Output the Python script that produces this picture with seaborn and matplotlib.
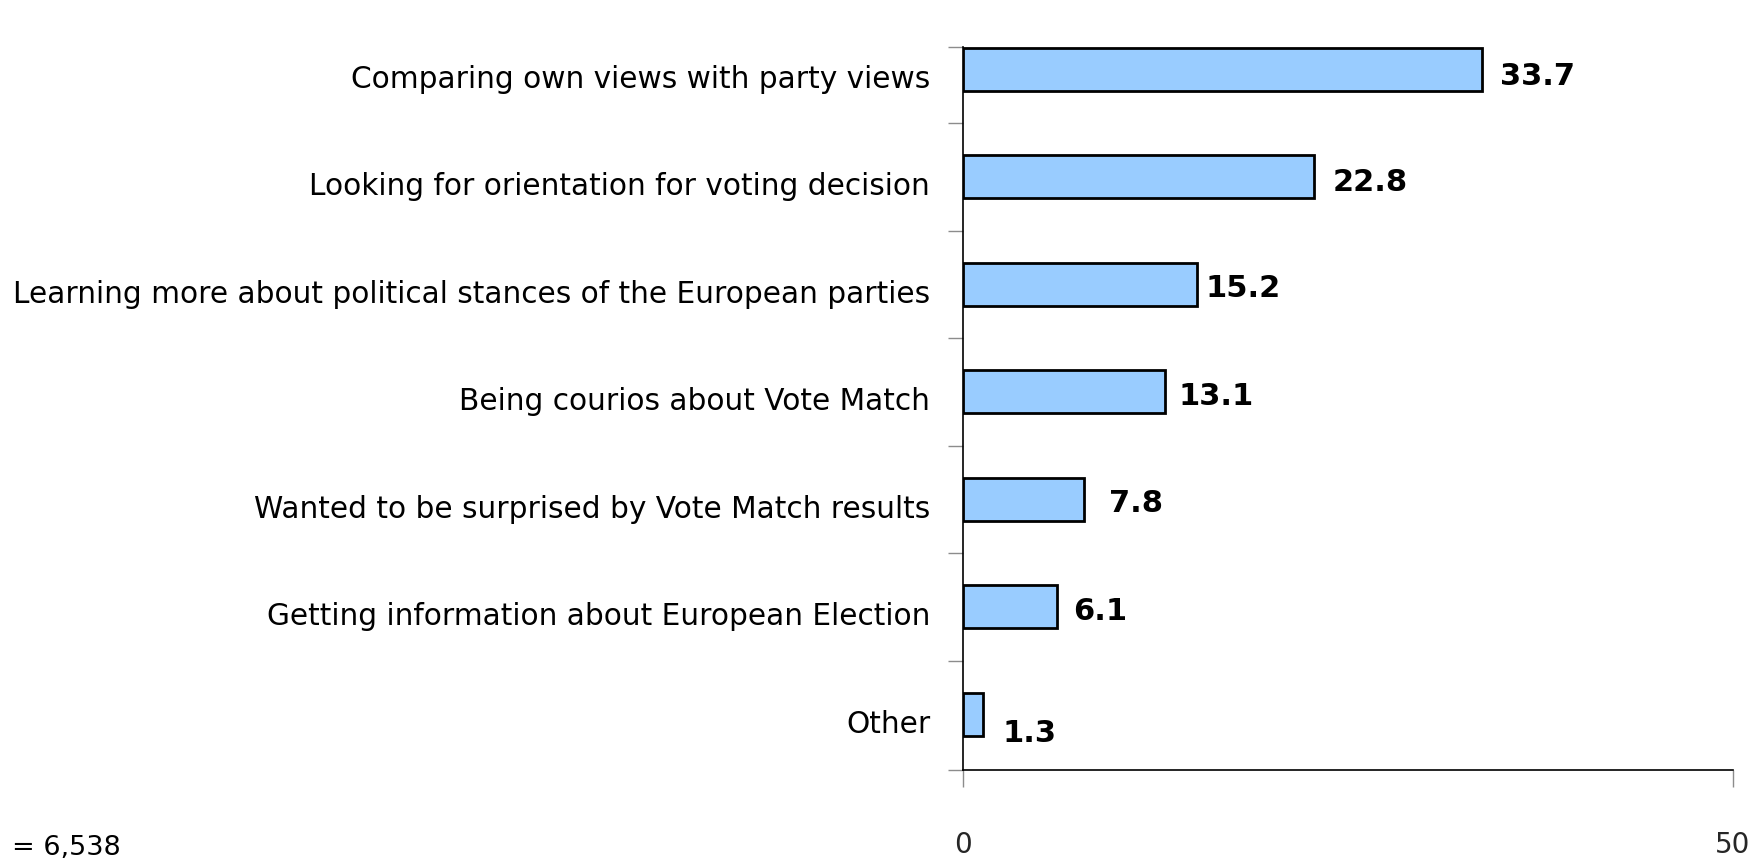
import matplotlib
matplotlib.use("Agg")
import matplotlib.pyplot as plt
import matplotlib.transforms as mtransforms
import seaborn as sns
import pandas as pd

# Reasons for using Vote Match (share of respondents, %)
categories = [
    "Comparing own views with party views",
    "Looking for orientation for voting decision",
    "Learning more about political stances of the European parties",
    "Being courios about Vote Match",
    "Wanted to be surprised by Vote Match results",
    "Getting information about European Election",
    "Other",
]
values = [33.7, 22.8, 15.2, 13.1, 7.8, 6.1, 1.3]
value_labels = ["33.7", "22.8", "15.2", "13.1", "7.8", "6.1", "1.3"]
x_ticks = [0, 50]
x_tick_labels = ["0", "50"]
sample_note = "= 6,538"

# label nudges in points (dx right of bar end, dy downward)
label_dx = [13, 13.5, 5.5, 9.5, 18.5, 11.5, 13.5]
label_dy = [5.5, 4, 3, 3, 3, 3, 13.5]

sns.set_theme(style="white")
plt.rcParams["font.family"] = ["DejaVu Sans"]

fig = plt.figure(figsize=(17.55, 8.59), dpi=100)
ax = fig.add_axes([0.549, 0.1036, 0.4384, 0.8417])

df = pd.DataFrame({"reason": categories, "share": values})
sns.barplot(data=df, x="share", y="reason", orient="h", color="#99CCFF",
            saturation=1, edgecolor="black", linewidth=2, width=0.4, ax=ax)

ax.set_xlim(0, 50)
ax.set_ylim(6.517, -0.208)
ax.set_xlabel("")
ax.set_ylabel("")

# category labels
ax.set_yticks(range(len(categories)))
ax.set_yticklabels(categories, fontsize=21.3, color="black")
ax.tick_params(axis="y", which="major", length=0, pad=24)
shift = mtransforms.ScaledTranslation(0, -5 / 72, fig.dpi_scale_trans)
for lbl in ax.get_yticklabels():
    lbl.set_transform(lbl.get_transform() + shift)

# band separators on the category axis
ax.set_yticks([-0.208, 0.5, 1.5, 2.5, 3.5, 4.5, 5.5, 6.517], minor=True)
ax.tick_params(axis="y", which="minor", left=True, length=11, width=1,
               color="#8c8c8c", direction="out")

ax.set_xticks(x_ticks)
ax.set_xticklabels(x_tick_labels, fontsize=20)
ax.tick_params(axis="x", which="major", bottom=True, length=12, width=1,
               color="#8c8c8c", direction="out", pad=32)

for side in ["top", "right"]:
    ax.spines[side].set_visible(False)
for side in ["left", "bottom"]:
    ax.spines[side].set_color("black")
    ax.spines[side].set_linewidth(1.2)

for i, (v, txt) in enumerate(zip(values, value_labels)):
    ax.annotate(txt, xy=(v, i), xytext=(label_dx[i], -label_dy[i]),
                textcoords="offset points", ha="left", va="center",
                fontsize=22, fontweight="bold", color="black")

fig.text(12 / 1755, 1 - 848 / 859, sample_note, ha="left", va="center",
         fontsize=19.5, color="black")

fig.savefig("out.png", dpi=100, facecolor="white")
